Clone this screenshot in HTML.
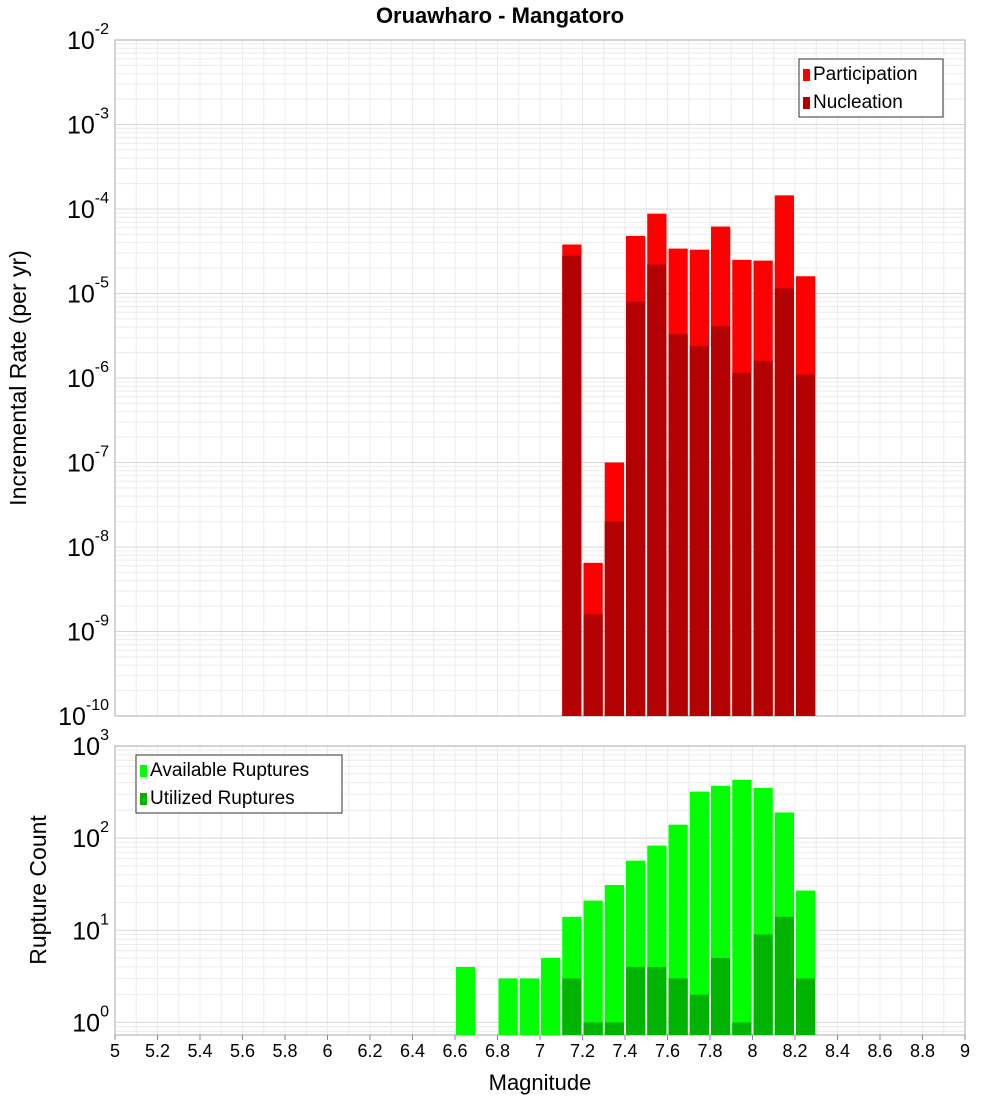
<!DOCTYPE html>
<html><head><meta charset="utf-8">
<style>
body{margin:0;background:#fff;}
svg{display:block;font-family:"Liberation Sans","DejaVu Sans",sans-serif;}
</style></head>
<body>
<svg id="c" width="1000" height="1100" xmlns="http://www.w3.org/2000/svg">
<text x="500" y="23" text-anchor="middle" font-size="22" font-weight="bold">Oruawharo - Mangatoro</text>
<g id="top"></g>
<g id="bot"></g>
<text transform="translate(26,378) rotate(-90)" text-anchor="middle" font-size="23">Incremental Rate (per yr)</text>
<text transform="translate(46,890) rotate(-90)" text-anchor="middle" font-size="23">Rupture Count</text>
<text x="540" y="1090" text-anchor="middle" font-size="22">Magnitude</text>
</svg>
<script>
const rateMags=[7.1,7.2,7.3,7.4,7.5,7.6,7.7,7.8,7.9,8.0,8.1,8.2];
const participation=[3.8e-5,6.5e-9,1.0e-7,4.8e-5,8.8e-5,3.4e-5,3.3e-5,6.2e-5,2.5e-5,2.45e-5,1.45e-4,1.6e-5];
const nucleation=[2.8e-5,1.6e-9,2.0e-8,8e-6,2.2e-5,3.3e-6,2.4e-6,4.1e-6,1.15e-6,1.6e-6,1.15e-5,1.1e-6];
const countMags=[6.6,6.8,6.9,7.0,7.1,7.2,7.3,7.4,7.5,7.6,7.7,7.8,7.9,8.0,8.1,8.2];
const available=[4,3,3,5,14,21,31,57,83,140,320,370,430,350,190,27];
const utilized=[0,0,0,0,3,1,1,4,4,3,2,5,1,9,14,3];
const xTicks=[5,5.2,5.4,5.6,5.8,6,6.2,6.4,6.6,6.8,7,7.2,7.4,7.6,7.8,8,8.2,8.4,8.6,8.8,9];

const NS="http://www.w3.org/2000/svg";
const X0=115,X1=965;
function xs(m){return X0+(m-5)/4*(X1-X0);}
function mk(p,t,a){const e=document.createElementNS(NS,t);for(const k in a)e.setAttribute(k,a[k]);p.appendChild(e);return e;}

function panel(g,top,bot,lmin,lmax,name){
  const ys=v=>bot-(Math.log10(v)-lmin)/(lmax-lmin)*(bot-top);
  // grids
  for(let m=5;m<=9.001;m+=0.1){const l=mk(g,'line',{x1:xs(m),x2:xs(m),y1:top,y2:bot,stroke:'#ececec','stroke-width':1});
  
  }
  for(let d=Math.floor(lmin);d<lmax;d++){for(let k=1;k<10;k++){const v=k*Math.pow(10,d);const lv=Math.log10(v);if(lv<lmin||lv>lmax)continue;
    const l=mk(g,'line',{x1:X0,x2:X1,y1:ys(v),y2:ys(v),stroke:k==1?'#d8d8d8':'#ececec','stroke-width':1});
    
    }}
  mk(g,'rect',{x:X0,y:top,width:X1-X0,height:bot-top,fill:'none',stroke:'#aaa','stroke-width':1});
  for(let d=Math.ceil(lmin);d<=Math.floor(lmax);d++){
    const t=mk(g,'text',{x:X0-6,y:ys(Math.pow(10,d))+9,'text-anchor':'end','font-size':25});
    
    
    t.textContent='10';
    const s=mk(t,'tspan',{dy:-15,'font-size':16});s.textContent=String(d);
  }
  return ys;
}
function bar(g,ys,m,v,bot,fill,name){
  if(v<=0)return;
  const x=xs(m)+1,w=xs(m+0.1)-xs(m)-2,y=ys(v);
  const r=mk(g,'rect',{x:x,y:y,width:w,height:bot-y,fill:fill});
  
  
}
// top panel
const gt=document.getElementById('top');
const T0=40,T1=716;
const yt=panel(gt,T0,T1,-10,-2,'rate');
rateMags.forEach((m,i)=>{bar(gt,yt,m,participation[i],T1,'#ff0000','participation-bar');bar(gt,yt,m,nucleation[i],T1,'#b30000','nucleation-bar');});
// bottom panel
const gb=document.getElementById('bot');
const B0=746,B1=1035;
const lminB=Math.log10(0.73);
const yb=panel(gb,B0,B1,lminB,3,'count');
countMags.forEach((m,i)=>{bar(gb,yb,m,available[i],B1,'#00ff00','available-bar');bar(gb,yb,m,utilized[i],B1,'#00b300','utilized-bar');});
// x ticks
const svg=document.getElementById('c');
xTicks.forEach(m=>{
  const l=mk(svg,'line',{x1:xs(m),x2:xs(m),y1:B1,y2:B1+5,stroke:'#888'});
  
  
  const t=mk(svg,'text',{x:xs(m),y:B1+22,'text-anchor':'middle','font-size':18});
  
  
  t.textContent=String(m);
});
// legends
function legend(x,y,w,items,name){
  const g=mk(svg,'g',{});
  
  
  mk(g,'rect',{x:x,y:y,width:w,height:58,fill:'#fff',stroke:'#333'});
  items.forEach((it,i)=>{
    const r=mk(g,'rect',{x:x+4,y:y+10+i*28,width:7,height:12,fill:it[1]});
    
    
    const t=mk(g,'text',{x:x+14,y:y+21+i*28,'font-size':19});
    
    
    t.textContent=it[0];
  });
}
legend(799,59,144,[['Participation','#ff0000'],['Nucleation','#b30000']],'rate-legend');
legend(136,755,206,[['Available Ruptures','#00ff00'],['Utilized Ruptures','#00b300']],'count-legend');
</script>
</body></html>
